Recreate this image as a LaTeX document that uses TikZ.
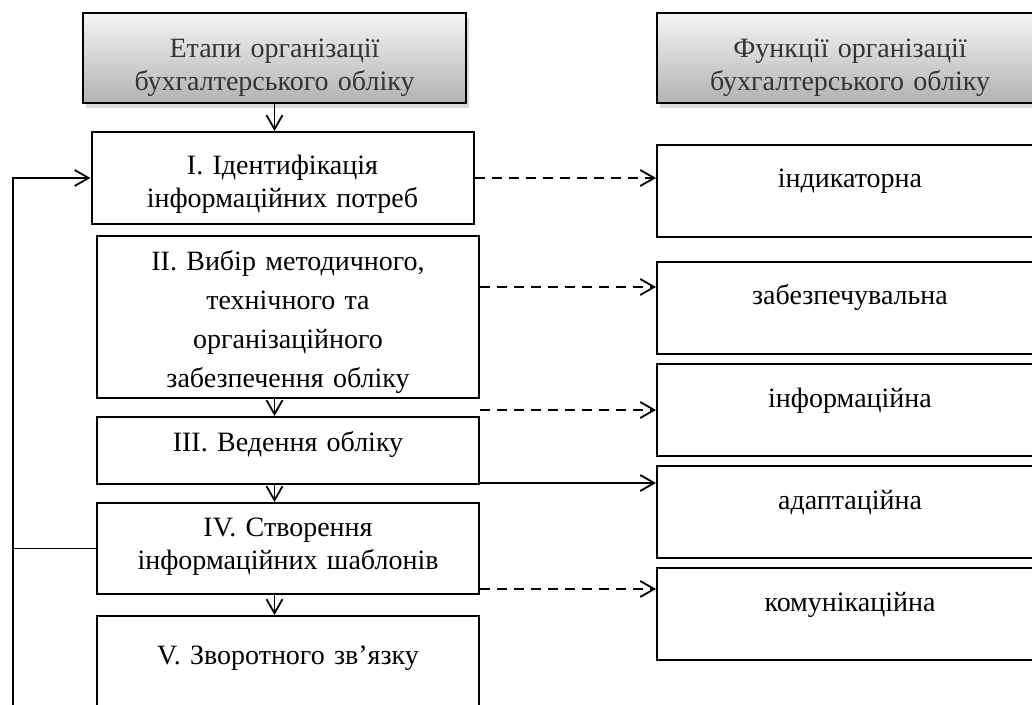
\documentclass[tikz,border=0pt]{standalone}
\usepackage{fontspec}
\setmainfont{Liberation Serif}
\usetikzlibrary{arrows.meta, shadows}

\begin{document}
\begin{tikzpicture}
      [
        x=0.5pt, y=-0.5pt,
        font=\fontsize{14}{16.5}\selectfont,
        box/.style={draw, line width=1pt, inner xsep=2pt, inner ysep=0pt,
          align=center, anchor=north, text=black},
        head/.style={box, text=black!80, top color=gray!8, bottom color=gray!60,
          drop shadow={opacity=0.3, shadow xshift=1.5pt, shadow yshift=-2.5pt}},
        stage/.style={box, text width=187pt},
        func/.style={box, text width=189pt, text height=21.5pt, text depth=24.5pt},
        arr/.style={line width=0.9pt, -{Straight Barb[length=7pt,width=8pt]}},
        dsh/.style={arr, dash pattern=on 5pt off 3.5pt}
      ]
      \useasboundingbox (0,0) rectangle (1032,705);
      % headers
      \node [head, text width=187.5pt, text height=22.5pt, text depth=22.5pt]
        (hdrL) at (274.5,12) {Етапи організації\\бухгалтерського обліку};
      \node [head, text width=189pt, text height=22.5pt, text depth=22.5pt]
        (hdrR) at (850,12) {Функції організації\\бухгалтерського обліку};
      % stages
      \node [stage, text height=21.5pt, text depth=24.5pt] (st1) at (282.5,131)
        {І. Ідентифікація\\інформаційних потреб};
      \node [stage, text height=17.5pt, text depth=63.5pt,
        font=\fontsize{14}{19.5}\selectfont] (st2) at (288,235)
        {ІІ. Вибір методичного,\\технічного та\\організаційного\\забезпечення обліку};
      \node [stage, text height=17pt, text depth=16.5pt] (st3) at (288,416)
        {ІІІ. Ведення обліку};
      \node [stage, text height=16.5pt, text depth=29pt] (st4) at (288,502)
        {IV. Створення\\інформаційних шаблонів};
      \node [stage, text height=24pt, text depth=38pt] (st5) at (288,615)
        {V. Зворотного зв’язку};
      % functions
      \foreach \nm/\y/\txt in {ind/144/індикаторна, zab/261/забезпечувальна,
          inf/363/інформаційна, ada/465/адаптаційна, kom/567/комунікаційна} {
          \node [func] (\nm) at (850,\y) {\txt};
      }
      % stage arrows
      \draw [arr] (hdrL) -- (hdrL |- st1.north);
      \draw [arr] (st2.south -| hdrL) -- (st3.north -| hdrL);
      \draw [arr] (st3.south -| hdrL) -- (st4.north -| hdrL);
      \draw [arr] (st4.south -| hdrL) -- (st5.north -| hdrL);
      % feedback
      \coordinate (fb) at (13,712);
      \draw [arr] (fb) |- (st1.west);
      \draw [line width=0.9pt] (fb |- st4.west) -- (st4.west);
      % links to functions
      \coordinate (d2) at ([yshift=-26pt]st2.north east);
      \coordinate (d3) at ([yshift=-5.5pt]st2.south east);
      \coordinate (d4) at ([yshift=1pt]st3.south east);
      \coordinate (d5) at ([yshift=3pt]st4.south east);
      \draw [dsh] (st1.east) -- (st1.east -| ind.west);
      \draw [dsh] (d2) -- (d2 -| zab.west);
      \draw [dsh] (d3) -- (d3 -| inf.west);
      \draw [arr] (d4) -- (d4 -| ada.west);
      \draw [dsh] (d5) -- (d5 -| kom.west);
\end{tikzpicture}
\end{document}
